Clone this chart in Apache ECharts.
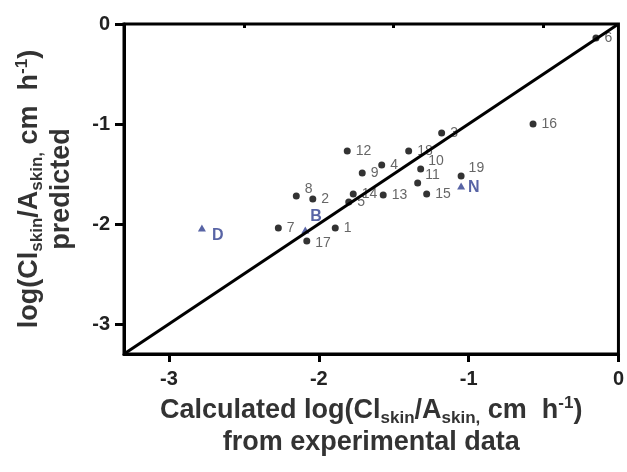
<!DOCTYPE html>
<html>
<head>
<meta charset="utf-8">
<script src="https://cdn.jsdelivr.net/npm/echarts@6/dist/echarts.min.js"></script>
<style>
  html, body { margin: 0; padding: 0; background: #fff; }
  #chart { width: 627px; height: 472px; }
</style>
</head>
<body>
<div id="chart"></div>
<script>
// compounds 1..19, experimental vs predicted
var compoundNames = ['1', '2', '3', '4', '5', '6', '7', '8', '9', '10',
  '11', '12', '13', '14', '15', '16', '17', '18', '19'];
var expX = [-1.89, -2.04, -1.18, -1.58, -1.80, -0.15, -2.27, -2.15, -1.71, -1.32,
  -1.34, -1.81, -1.57, -1.77, -1.28, -0.57, -2.08, -1.40, -1.05];
var predY = [-2.04, -1.75, -1.09, -1.41, -1.78, -0.14, -2.04, -1.72, -1.49, -1.45,
  -1.59, -1.27, -1.71, -1.70, -1.70, -1.00, -2.17, -1.27, -1.52];

// reference drugs (triangles)
var refNames = ['B', 'D', 'N'];
var refX = [-2.09, -2.78, -1.05];
var refY = [-2.06, -2.04, -1.62];

var xTicks = [-3, -2, -1, 0];
var xMinorTicks = [-2.5, -1.5, -0.5];
var yTicks = [-3, -2, -1, 0];
var unityLine = [-3.3, 0];

var font = 'Liberation Sans, Arial, sans-serif';

// label nudges so numbers sit like in the figure
var labelOffset = {
  '8': [0, -7], '10': [-1, -8], '11': [-1, -8], '19': [-1, -8], '17': [0, 2],
  'B': [-3, -13], 'D': [2, 8], 'N': [-1, 2]
};

var dotData = [];
for (var i = 0; i < compoundNames.length; i++) {
  var d = { name: compoundNames[i], value: [expX[i], predY[i]] };
  if (labelOffset[compoundNames[i]]) d.label = { offset: labelOffset[compoundNames[i]] };
  dotData.push(d);
}
var refData = [];
for (var j = 0; j < refNames.length; j++) {
  refData.push({ name: refNames[j], value: [refX[j], refY[j]], label: { offset: labelOffset[refNames[j]] } });
}
var lineData = [];
for (var k = 0; k < unityLine.length; k++) {
  lineData.push([unityLine[k], unityLine[k]]);
}

var titleRich = {
  t: { fontSize: 27, fontWeight: 'bold', color: '#333', fontFamily: font, lineHeight: 32 },
  s: { fontSize: 17, fontWeight: 'bold', color: '#333', fontFamily: font, lineHeight: 15, verticalAlign: 'bottom' },
  p: { fontSize: 17, fontWeight: 'bold', color: '#333', fontFamily: font, lineHeight: 19, verticalAlign: 'top' }
};

var chart = echarts.init(document.getElementById('chart'), null, { renderer: 'canvas' });

var option = {
  backgroundColor: '#fff',
  animation: false,
  grid: {
    left: 124, right: 8, top: 24, bottom: 118,
    show: true, borderColor: '#000', borderWidth: 3
  },
  xAxis: [
    {
      type: 'value', min: -3.3, max: 0,
      splitLine: { show: false },
      axisLine: { show: true, onZero: false, lineStyle: { color: '#000', width: 3 } },
      axisTick: { show: true, length: 8, customValues: xTicks, lineStyle: { color: '#000', width: 3 } },
      axisLabel: {
        customValues: xTicks, margin: 15, fontSize: 20, fontWeight: 'bold',
        color: '#222', fontFamily: font
      },
      name: '{t|Calculated log(Cl}{s|skin}{t|/A}{s|skin,}{t| cm  h}{p|-1}{t|)}\n{t|from experimental data}',
      nameLocation: 'middle',
      nameGap: 41,
      nameTextStyle: { fontSize: 27, fontWeight: 'bold', color: '#333', fontFamily: font, rich: titleRich }
    },
    {
      // minor ticks only
      type: 'value', min: -3.3, max: 0, position: 'bottom',
      splitLine: { show: false },
      axisLine: { show: false },
      axisLabel: { show: false },
      axisTick: { show: true, length: 4, customValues: xMinorTicks, lineStyle: { color: '#000', width: 3 } }
    }
  ],
  yAxis: {
    type: 'value', min: -3.3, max: 0,
    splitLine: { show: false },
    axisLine: { show: true, onZero: false, lineStyle: { color: '#000', width: 3 } },
    axisTick: { show: true, length: 9, customValues: yTicks, lineStyle: { color: '#000', width: 3 } },
    axisLabel: {
      customValues: yTicks, margin: 14, fontSize: 20, fontWeight: 'bold',
      color: '#222', fontFamily: font
    },
    name: '{t|log(Cl}{s|skin}{t|/A}{s|skin,}{t| cm  h}{p|-1}{t|)}\n{t|predicted}',
    nameLocation: 'middle',
    nameGap: 46,
    nameTextStyle: { fontSize: 27, fontWeight: 'bold', color: '#333', fontFamily: font, rich: titleRich }
  },
  series: [
    {
      name: 'compounds',
      type: 'scatter',
      z: 2,
      symbol: 'circle',
      symbolSize: 7,
      itemStyle: { color: '#000' },
      label: {
        show: true, position: 'right', distance: 5,
        formatter: '{b}', fontSize: 14, color: '#404040', fontFamily: font
      },
      data: dotData
    },
    {
      name: 'reference',
      type: 'scatter',
      z: 2,
      symbol: 'triangle',
      symbolSize: [8, 7],
      itemStyle: { color: '#2e3d8f' },
      label: {
        show: true, position: 'right', distance: 4,
        formatter: '{b}', fontSize: 16, fontWeight: 'bold', color: '#2e3d8f', fontFamily: font
      },
      data: refData
    },
    {
      name: 'unity',
      type: 'line',
      z: 3,
      symbol: 'none',
      silent: true,
      lineStyle: { color: '#000', width: 3 },
      data: lineData
    }
  ]
};

chart.setOption(option);
</script>
</body>
</html>
